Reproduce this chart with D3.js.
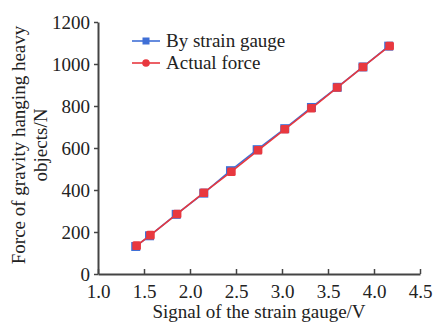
<!DOCTYPE html>
<html>
<head>
<meta charset="utf-8">
<script src="https://cdn.jsdelivr.net/npm/d3@7"></script>
<style>
  body { margin: 0; background: #fff; }
  svg { display: block; }
  svg text { font-family: "Liberation Serif", "DejaVu Serif", serif !important; }
</style>
</head>
<body>
<div id="chart"></div>
<script>
// Signal (V) vs force (N)
const signalGauge = [1.41, 1.56, 1.85, 2.15, 2.44, 2.73, 3.03, 3.32, 3.60, 3.88, 4.16];
const forceGauge  = [131, 182, 284, 385, 492, 592, 692, 793, 889, 986, 1085];
const signalActual = [1.42, 1.57, 1.86, 2.15, 2.45, 2.74, 3.03, 3.32, 3.60, 3.88, 4.17];
const forceActual  = [135, 185, 286, 387, 487, 589, 689, 789, 888, 986, 1086];
const xTicks = [1.0, 1.5, 2.0, 2.5, 3.0, 3.5, 4.0, 4.5];
const yTicks = [0, 200, 400, 600, 800, 1000, 1200];

(function () {
  const W = 433, H = 322;
  const margin = { left: 98, top: 22, right: 13, bottom: 48 };
  const innerW = W - margin.left - margin.right;
  const innerH = H - margin.top - margin.bottom;
  const BLUE = "#3f6fd6", RED = "#e8383f", AXIS = "#444";
  const FS = 19;

  const svg = d3.select("#chart").append("svg").attr("width", W).attr("height", H);
  const g = svg.append("g").attr("transform", `translate(${margin.left},${margin.top})`);

  const x = d3.scaleLinear().domain([1.0, 4.5]).range([0, innerW]);
  const y = d3.scaleLinear().domain([0, 1200]).range([innerH, 0]);

  // Axes
  const xAxis = g.append("g")
    .attr("transform", `translate(0,${innerH})`)
    .call(d3.axisBottom(x).tickValues(xTicks).tickFormat(d3.format(".1f")).tickSizeInner(-5).tickSizeOuter(0).tickPadding(11));
  const yAxis = g.append("g")
    .call(d3.axisLeft(y).tickValues(yTicks).tickFormat(d3.format("d")).tickSizeInner(4).tickSizeOuter(0).tickPadding(4));

  [xAxis, yAxis].forEach(a => {
    a.attr("font-size", FS);
    a.select(".domain").attr("stroke", AXIS).attr("stroke-width", 2);
    a.selectAll(".tick line").attr("stroke", AXIS).attr("stroke-width", 1.5);
    a.selectAll(".tick text").attr("fill", "#222");
  });

  // Series
  const series = [
    { name: "By strain gauge", xs: signalGauge, ys: forceGauge, color: BLUE, shape: "square" },
    { name: "Actual force", xs: signalActual, ys: forceActual, color: RED, shape: "circle" }
  ];

  series.forEach(s => {
    const pts = s.xs.map((v, i) => ({ x: v, y: s.ys[i] }));
    g.append("path").datum(pts)
      .attr("fill", "none").attr("stroke", s.color).attr("stroke-width", 1.6)
      .attr("d", d3.line().x(d => x(d.x)).y(d => y(d.y)));
    if (s.shape === "square") {
      g.selectAll(null).data(pts).join("rect")
        .attr("x", d => x(d.x) - 4.5).attr("y", d => y(d.y) - 4.5)
        .attr("width", 9).attr("height", 9).attr("fill", s.color);
    } else {
      g.selectAll(null).data(pts).join("rect")
        .attr("x", d => x(d.x) - 4.3).attr("y", d => y(d.y) - 4.3)
        .attr("width", 8.6).attr("height", 8.6).attr("rx", 1.5).attr("fill", s.color);
    }
  });

  // Legend
  const leg = svg.append("g").attr("transform", "translate(132,41)");
  series.forEach((s, i) => {
    const row = leg.append("g").attr("transform", `translate(0,${i * 22})`);
    row.append("line").attr("x1", 0).attr("x2", 28).attr("stroke", s.color).attr("stroke-width", 1.6);
    if (s.shape === "square") {
      row.append("rect").attr("x", 10.5).attr("y", -3.5).attr("width", 7).attr("height", 7).attr("fill", s.color);
    } else {
      row.append("circle").attr("cx", 14).attr("r", 3.8).attr("fill", s.color);
    }
    row.append("text").attr("x", 34).attr("y", 6).attr("fill", "#222")
      .attr("font-size", FS).text(s.name);
  });

  // Axis titles
  svg.append("text")
    .attr("x", 259).attr("y", H - 4)
    .attr("text-anchor", "middle").attr("fill", "#222").attr("font-size", FS)
    .text("Signal of the strain gauge/V");

  const yt = svg.append("text")
    .attr("transform", `translate(25,145) rotate(-90)`)
    .attr("text-anchor", "middle").attr("fill", "#222").attr("font-size", FS);
  yt.append("tspan").attr("x", 0).attr("dy", 0).text("Force of gravity hanging heavy");
  yt.append("tspan").attr("x", 0).attr("dy", 22).text("objects/N");
})();
</script>
</body>
</html>
